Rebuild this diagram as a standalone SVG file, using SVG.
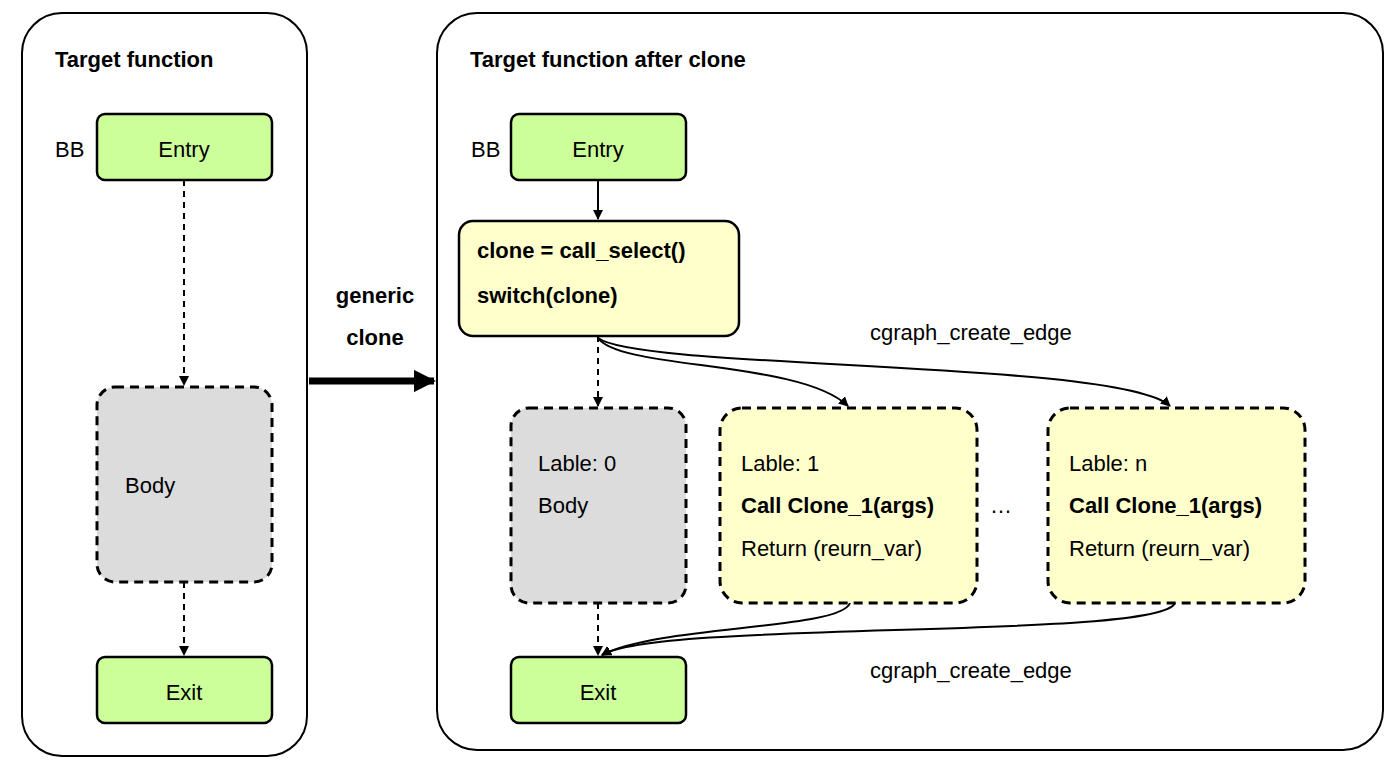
<svg xmlns="http://www.w3.org/2000/svg" width="1398" height="770" viewBox="0 0 1398 770">
<defs>
<marker id="ah" viewBox="0 0 10 10" refX="9" refY="5" markerWidth="5" markerHeight="5" orient="auto"><path d="M0,0 L10,5 L0,10 z" fill="#000"/></marker>
<marker id="ahb" viewBox="0 0 10 10" refX="9" refY="5" markerWidth="3.2" markerHeight="3.2" orient="auto"><path d="M0,0 L10,5 L0,10 z" fill="#000"/></marker>
<style>
text{font-family:"Liberation Sans",Arial,sans-serif;font-size:22px;fill:#000}
.b{font-weight:bold}
.frame{fill:#fff;stroke:#000;stroke-width:2}
.green{fill:#ccff99;stroke:#000;stroke-width:2.5}
.yel{fill:#ffffcc;stroke:#000;stroke-width:2.5}
.yeld{fill:#ffffcc;stroke:#000;stroke-width:3;stroke-dasharray:9 6}
.grayd{fill:#dcdcdc;stroke:#000;stroke-width:3;stroke-dasharray:9 6}
.c{fill:none;stroke:#000;stroke-width:2;marker-end:url(#ah)}
.cd{fill:none;stroke:#000;stroke-width:2;stroke-dasharray:6 5;marker-end:url(#ah)}
</style>
</defs>
<g id="frame-left"><rect class="frame" x="22" y="13" width="285" height="743" rx="40"/><text class="b" x="55" y="67">Target function</text></g>
<g id="frame-right"><rect class="frame" x="437" y="13" width="946" height="737" rx="40"/><text class="b" x="470" y="67">Target function after clone</text></g>
<g id="l-entry"><text x="55" y="157">BB</text><rect class="green" x="97" y="114" width="175" height="66" rx="8"/><text x="184" y="157" text-anchor="middle">Entry</text></g>
<g id="l-body"><rect class="grayd" x="97" y="387" width="175" height="195" rx="18"/><text x="125" y="493">Body</text></g>
<g id="l-exit"><rect class="green" x="97" y="657" width="175" height="66" rx="8"/><text x="184" y="700" text-anchor="middle">Exit</text></g>
<g id="label-generic"><text class="b" x="375" y="303" text-anchor="middle">generic</text><text class="b" x="375" y="345" text-anchor="middle">clone</text></g>
<g id="r-entry"><text x="471" y="157">BB</text><rect class="green" x="511" y="114" width="175" height="66" rx="8"/><text x="598" y="157" text-anchor="middle">Entry</text></g>
<g id="r-switch"><rect class="yel" x="459" y="221" width="280" height="115" rx="14"/><text class="b" x="477" y="258">clone = call_select()</text><text class="b" x="477" y="303">switch(clone)</text></g>
<g id="r-body"><rect class="grayd" x="511" y="408" width="175" height="195" rx="18"/><text x="538" y="471">Lable: 0</text><text x="538" y="513">Body</text></g>
<g id="r-c1"><rect class="yeld" x="720" y="408" width="257" height="195" rx="22"/><text x="741" y="471">Lable: 1</text><text class="b" x="741" y="513">Call Clone_1(args)</text><text x="741" y="556">Return (reurn_var)</text></g>
<g id="dots"><text x="990" y="513">…</text></g>
<g id="r-cn"><rect class="yeld" x="1048" y="408" width="257" height="195" rx="22"/><text x="1069" y="471">Lable: n</text><text class="b" x="1069" y="513">Call Clone_1(args)</text><text x="1069" y="556">Return (reurn_var)</text></g>
<g id="r-exit"><rect class="green" x="511" y="657" width="175" height="66" rx="8"/><text x="598" y="700" text-anchor="middle">Exit</text></g>
<g id="labels"><text x="870" y="340">cgraph_create_edge</text><text x="870" y="678">cgraph_create_edge</text></g>
<g id="connectors">
<path class="cd" d="M184,180 V385"/>
<path class="cd" d="M184,582 V655"/>
<path d="M309,381 H434" fill="none" stroke="#000" stroke-width="7" marker-end="url(#ahb)"/>
<path class="c" d="M598,180 V219"/>
<path class="cd" d="M598,336 V406"/>
<path class="c" d="M598,338 C620,370 800,360 848,406"/>
<path class="c" d="M598,338 C640,370 1120,360 1170,406"/>
<path class="cd" d="M598,603 V655"/>
<path class="c" d="M850,603 C840,630 660,625 602,655"/>
<path class="c" d="M1175,603 C1160,640 660,620 602,655"/>
</g>
</svg>
